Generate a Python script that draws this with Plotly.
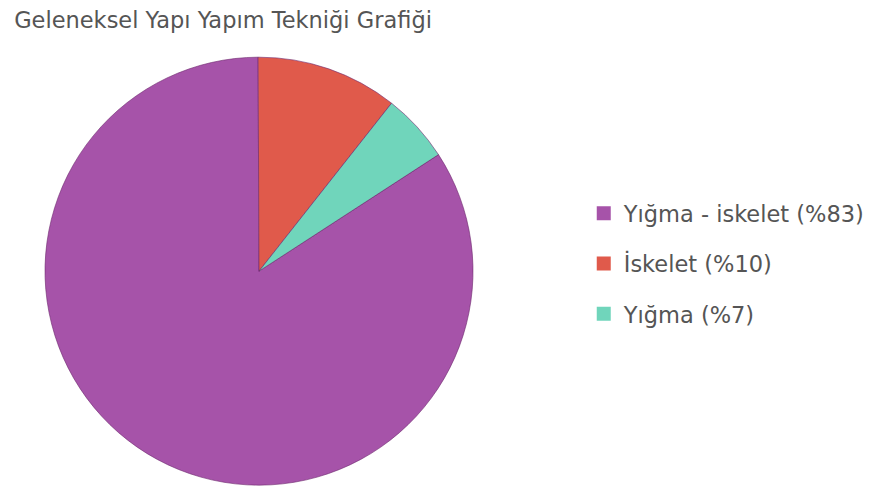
import plotly.graph_objects as go

# slice sizes (angles), legend labels as printed
labels = ["Yığma - iskelet (%83)", "İskelet (%10)", "Yığma (%7)"]
values = [84.1, 10.7, 5.2]
colors = ["#a653a9", "#e05a4b", "#70d5bb"]

fig = go.Figure()

fig.add_trace(go.Pie(
    labels=labels, values=values, sort=False, direction="clockwise",
    rotation=57, textinfo="none", hoverinfo="label+percent",
    marker=dict(colors=colors, line=dict(color="rgba(110,40,110,0.6)", width=1)),
    domain=dict(x=[37 / 875, 465 / 875], y=[0.018, 0.899]),
    showlegend=False,
))

# legend entries (one group each so they can be spaced out)
for lab, col in zip(labels, colors):
    fig.add_trace(go.Scatter(
        x=[None], y=[None], mode="markers", name=lab, legendgroup=lab,
        marker=dict(symbol="square", size=14, color=col),
    ))

fig.update_layout(
    width=875, height=486,
    margin=dict(l=0, r=0, t=0, b=0),
    paper_bgcolor="white", plot_bgcolor="white",
    title=dict(text="Geleneksel Yapı Yapım Tekniği Grafiği", x=0.007, xanchor="left",
               y=0.975, yanchor="middle",
               font=dict(family="DejaVu Sans", size=22.5, color="#555555")),
    font=dict(family="DejaVu Sans", color="#555555"),
    xaxis=dict(visible=False), yaxis=dict(visible=False),
    legend=dict(x=0.658, xanchor="left", y=0.474, yanchor="middle",
                font=dict(size=22.5, color="#555555"), tracegroupgap=18,
                itemclick=False),
)

fig.write_html("out.html")
